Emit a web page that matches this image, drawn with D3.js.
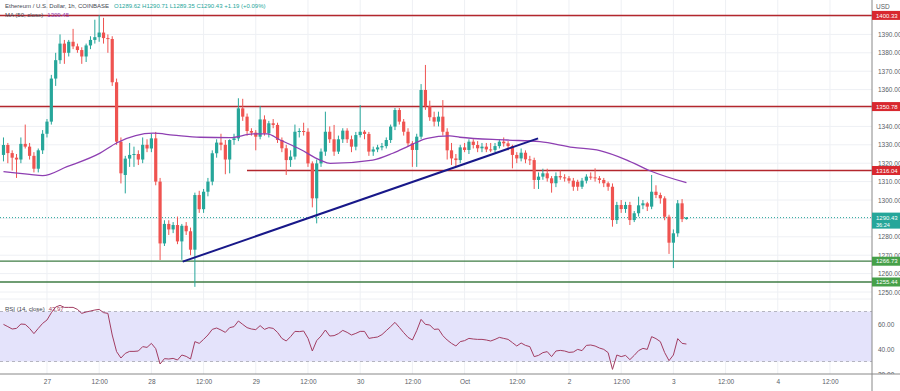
<!DOCTYPE html>
<html>
<head>
<meta charset="utf-8">
<script src="https://cdnjs.cloudflare.com/ajax/libs/d3/7.8.5/d3.min.js"></script>
<style>
  body { margin: 0; background: #fff; }
  svg { display: block; font-family: "Liberation Sans", Arial, sans-serif; }
</style>
</head>
<body>
<div id="chart"></div>
<script>
// ETH/USD 1h candles, Sep 26 14:00 -> Oct 3 03:00
const opens = [1324.5,1329.9,1325.5,1323,1322,1330.5,1329,1324,1317,1327,
  1336,1342.6,1366,1376,1385,1380,1386,1383.5,1381.5,1378,
  1384,1387,1388.5,1391,1388,1387.5,1364,1331.7,1313.6,1322.5,
  1324.5,1325,1322,1330,1328,1333.5,1310,1276.4,1287,1284,
  1286.4,1277.5,1286,1283,1273,1302.7,1295,1304.5,1310,1325.4,
  1331.2,1330,1322,1332.6,1333.5,1349.8,1345.3,1337.5,1336.6,1334.4,
  1343.8,1336.2,1341.7,1340.8,1332.6,1328.1,1321.7,1323.6,1337.1,1337.5,
  1337.1,1319.9,1300.9,1319.9,1326.3,1337.1,1333,1326.3,1333,1337.7,
  1333,1329,1335.3,1337.1,1335.9,1326.3,1327.5,1328.6,1329.3,1332.6,
  1339.9,1348.9,1342.6,1337.1,1330.8,1327.2,1334.4,1359.8,1351,1345,
  1342.6,1345.3,1337.1,1327,1322.6,1321.7,1328.6,1327.2,1331.7,1329.9,
  1328.1,1329,1327.5,1327.2,1329.3,1331.7,1330.8,1329.3,1324.5,1322.6,
  1325.7,1322.1,1321.7,1310.9,1312.7,1314.5,1311.8,1309.1,1313,1312.3,
  1311.8,1310.5,1309.9,1307.2,1310.5,1312.7,1312.3,1311.8,1310.9,1309.1,
  1307.2,1289.1,1297.3,1295.1,1297.3,1289.1,1292.8,1297.1,1298.2,1296.4,
  1304.5,1302.7,1300.9,1290.9,1276.8,1281.9,1298.2,1289.62];
const highs = [1334,1331,1327,1325,1334,1341,1331,1326,1328,1338,
  1344,1368,1380,1390,1387,1387,1393,1385,1383,1385,
  1389,1398,1400.5,1399,1390,1389,1366,1334,1324,1331,
  1329,1327,1334,1333,1336,1337,1312,1289,1289,1288,
  1291,1287,1288,1285,1304,1305,1306,1312,1327,1333,
  1336,1332.6,1333,1336,1355.3,1355,1347,1339,1338,1351.1,
  1346,1343,1344,1342,1334,1330,1327,1341,1339,1342,
  1339,1321,1322,1328,1348,1340,1340.8,1335,1339,1339,
  1335,1337,1351.6,1338,1337,1329,1330,1331,1334,1341,
  1350,1350,1344,1339,1332,1336,1363,1373.4,1354,1348,
  1348,1354.3,1339,1331,1325,1330,1331,1333,1333,1332,
  1331,1331,1331,1331,1333,1334,1332,1330,1326,1328,
  1327,1324,1323,1315,1317,1317,1313,1315,1316,1314,
  1313,1312,1311,1312,1314,1315,1317.2,1313,1312,1310,
  1309,1299,1300,1299,1299,1294,1301.8,1300,1299,1313.6,
  1308,1304,1302,1292,1284,1300,1300.5,1290.71];
const lows = [1321,1320,1316,1312,1320,1328,1322,1315,1315,1325,
  1334,1341,1362,1374,1374,1378,1382,1380,1374,1375,
  1382,1385,1386,1385,1380,1362,1330,1309,1303.6,1318,
  1318,1319,1320,1326,1326,1308,1267.4,1275,1281,1282,
  1276,1267.5,1281,1270,1252.8,1293,1293,1302,1308,1323,
  1327,1314,1314.5,1330,1332,1343,1335,1335,1327,1333,
  1335,1334,1339,1331,1326,1313.6,1318,1322,1334,1335,
  1318,1296,1287.3,1318,1324,1331,1324,1325,1331,1331,
  1326,1327,1334,1333,1324,1324,1326,1327,1328,1331,
  1338,1341,1335,1329,1318,1318,1333,1349,1343,1340,
  1340,1335,1322,1319,1318,1320,1326,1325,1328,1326,
  1326,1326,1326,1326,1328,1329,1327,1317.2,1320,1321,
  1320,1319,1306,1306,1311,1310,1304,1307,1311,1310,
  1309,1305,1305,1306,1309,1311,1310,1309,1307,1305,
  1285.5,1287,1293,1293,1286.4,1288,1291,1295,1294,1295,
  1301,1298,1289,1270.7,1263,1280,1288,1289.35];
const closes = [1329.9,1325.5,1323,1322,1330.5,1329,1324,1317,1327,1336,
  1342.6,1366,1376,1385,1380,1386,1383.5,1381.5,1378,1384,
  1387,1388.5,1391,1388,1387.5,1364,1331.7,1314.5,1322.5,1324.5,
  1325,1322,1330,1328,1333.5,1310,1276.4,1287,1284,1286.4,
  1277.5,1286,1283,1273,1302.7,1295,1304.5,1310,1325.4,1331.2,
  1330,1322,1332.6,1333.5,1349.8,1345.3,1337.5,1336.6,1334.4,1343.8,
  1336.2,1341.7,1340.8,1332.6,1328.1,1321.7,1323.6,1337.1,1337.5,1337.1,
  1319.9,1300.9,1319.9,1326.3,1337.1,1333,1326.3,1333,1337.7,1333,
  1329,1335.3,1337.1,1335.9,1326.3,1327.5,1328.6,1329.3,1332.6,1339.9,
  1348.9,1342.6,1337.1,1330.8,1327.2,1334.4,1359.8,1351,1345,1342.6,
  1345.3,1337.1,1327,1322.6,1321.7,1328.6,1327.2,1331.7,1329.9,1328.1,
  1329,1327.5,1327.2,1329.3,1331.7,1330.8,1329.3,1324.5,1322.6,1325.7,
  1322.1,1321.7,1310.9,1312.7,1314.5,1311.8,1309.1,1313,1312.3,1311.8,
  1310.5,1307.2,1307.2,1310.5,1312.7,1312.3,1311.8,1310.9,1309.1,1307.2,
  1289.1,1297.3,1295.1,1297.3,1289.1,1292.8,1297.1,1298.2,1296.4,1304.5,
  1302.7,1300.9,1290.9,1276.8,1281.9,1298.2,1289.6,1290.43];

// MA(50): candle index -> value
const maIndex = [0,2.6,6,9,14.6,22.2,26.1,34.4,39,45.2,52.1,57.4,60.6,63.6,68.2,72.8,75.1,
  84.9,89.5,94.1,97.4,102.6,104.9,115.7,123.3,130.9,137.1,143.3,148.6,157];
const maValues = [1315.4,1314.7,1313.9,1313.2,1318.1,1325.5,1331.1,1336.3,1335.3,1334.1,1333.9,1335.9,1335.9,1332.6,1327.6,1321.7,1319.9,
  1321.7,1325.4,1330.4,1333.5,1334.8,1334.1,1332.6,1331.7,1328.6,1326.8,1321.7,1315.9,1309.4];

// RSI(14), one value per candle
const rsiValues = [59.7,57.9,56,56.5,60,59.7,56.5,52.3,56.5,60.5,
  63.2,69,73.6,74.9,73.3,73.3,73.3,71.7,68.5,69.6,
  70.4,71.2,71.7,69.1,68.5,51.2,37.9,32.8,36.5,38.1,
  38.1,38.4,41.9,41.3,44.5,40.3,28,32.3,32,32.5,
  31.2,35.2,34.1,32,45.9,44.5,47.7,51.2,55.7,56.8,
  55.2,53.3,57.1,57.9,62.4,59.7,57.1,56,55.5,58.7,
  55.7,57.1,56.5,53.3,48.5,46.4,49.9,54.1,53.9,54.4,
  48.5,38.4,46.7,50.4,55.2,50.4,50.7,52.3,54.9,53.3,
  51.2,52.5,54.1,54.1,48.5,49.1,49.6,51.5,54.7,57.9,
  61.3,57.3,53.1,49.3,47.2,54.7,63.7,59.7,59.2,55.7,
  56,50.7,47.2,44.5,42.4,45.9,46.7,48.5,48,47.7,
  47.7,47.2,46.4,47.7,49.3,48.5,47.7,45.1,42.4,44.8,
  42.9,41.9,33.9,34.9,37.1,37.9,33.9,38.4,38.9,38.4,
  37.3,37.6,39.7,38.7,42.9,43.2,42.4,40.8,39.7,37.1,
  23.7,35.2,33.9,34.9,31.5,34.9,38.7,40.5,39.7,49.9,
  48.3,45.9,37.1,30.7,35.2,48.3,44.5,43.97];

// drawn levels and trendline
const resistanceLevels = [1400.33, 1350.78, 1316.04];
const supportLevels = [1266.73, 1255.44];
const trendIndex = [41.2, 122.9];
const trendValues = [1266.5, 1333.5];
const lastPrice = 1290.43;
const countdown = "36:24";

const priceTicks = [1250,1260,1270,1280,1300,1310,1320,1330,1340,1360,1370,1380,1390];
const rsiTicks = [20, 40, 60];
const xTickLabels = ["27","12:00","28","12:00","29","12:00","30","12:00","Oct","12:00","2","12:00","3","12:00","4","12:00"];

const width = 900;
const height = 391;
const plotRight = 872;
const priceBottom = 295;
const rsiTop = 296;
const rsiBottom = 374;

const upColor = "#26a69a";
const downColor = "#ef5350";
const gridColor = "#eef0f4";

const HOUR = 3600e3;
const day27 = Date.UTC(2021, 8, 27, 0);
const firstCandle = Date.UTC(2021, 8, 26, 14);
const candles = opens.map((o, i) => ({
  t: new Date(firstCandle + i * HOUR),
  o: o, h: highs[i], l: lows[i], c: closes[i], rsi: rsiValues[i]
}));
const candleTime = i => new Date(firstCandle + i * HOUR);

const svg = d3.select("#chart").append("svg")
  .attr("width", width)
  .attr("height", height);

const xScale = d3.scaleUtc()
  .domain([new Date(day27 - 10.8 * HOUR), new Date(day27 + 189.66 * HOUR)])
  .range([0, plotRight]);
const yPrice = d3.scaleLinear().domain([1248.37, 1408.7]).range([priceBottom, 0]);
const yRsi = d3.scaleLinear().domain([20, 82.4]).range([rsiBottom, rsiTop]);

const xTicks = xTickLabels.map((d, i) => new Date(day27 + i * 12 * HOUR));

svg.append("clipPath").attr("id", "priceClip")
  .append("rect").attr("x", 0).attr("y", 0).attr("width", plotRight).attr("height", priceBottom);
svg.append("clipPath").attr("id", "rsiClip")
  .append("rect").attr("x", 0).attr("y", rsiTop).attr("width", plotRight).attr("height", rsiBottom - rsiTop);
svg.append("clipPath").attr("id", "rsiAxisClip")
  .append("rect").attr("x", plotRight).attr("y", rsiTop).attr("width", width - plotRight).attr("height", rsiBottom - rsiTop);

// grid
const grid = svg.append("g");
grid.selectAll(".vgrid")
  .data(xTicks)
  .enter().append("line")
  .attr("x1", d => xScale(d)).attr("x2", d => xScale(d))
  .attr("y1", 0).attr("y2", rsiBottom)
  .attr("stroke", gridColor);
grid.selectAll(".hgrid")
  .data(d3.range(1250, 1410, 10))
  .enter().append("line")
  .attr("x1", 0).attr("x2", plotRight)
  .attr("y1", d => yPrice(d)).attr("y2", d => yPrice(d))
  .attr("stroke", gridColor);
grid.selectAll(".rgrid")
  .data([40, 60, 80])
  .enter().append("line")
  .attr("x1", 0).attr("x2", plotRight)
  .attr("y1", d => yRsi(d)).attr("y2", d => yRsi(d))
  .attr("stroke", gridColor);

// price pane
const price = svg.append("g").attr("clip-path", "url(#priceClip)");

price.append("line")
  .attr("x1", 0).attr("x2", plotRight)
  .attr("y1", yPrice(lastPrice)).attr("y2", yPrice(lastPrice))
  .attr("stroke", upColor).attr("stroke-width", 1)
  .attr("stroke-dasharray", "1,2");

price.selectAll(".res")
  .data(resistanceLevels)
  .enter().append("line")
  .attr("x1", (d, i) => i === 2 ? 247 : 0).attr("x2", plotRight)
  .attr("y1", d => yPrice(d)).attr("y2", d => yPrice(d))
  .attr("stroke", "#b3272d").attr("stroke-width", 1.5);

price.selectAll(".sup")
  .data(supportLevels)
  .enter().append("line")
  .attr("x1", 0).attr("x2", plotRight)
  .attr("y1", d => yPrice(d)).attr("y2", d => yPrice(d))
  .attr("stroke", "#3f7d44").attr("stroke-width", 1.3);

const candle = price.selectAll(".candle")
  .data(candles)
  .enter().append("g")
  .attr("class", "candle");

candle.append("line")
  .attr("x1", d => xScale(d.t)).attr("x2", d => xScale(d.t))
  .attr("y1", d => yPrice(d.h)).attr("y2", d => yPrice(d.l))
  .attr("stroke", d => d.c >= d.o ? upColor : downColor)
  .attr("stroke-width", 1);

candle.append("rect")
  .attr("x", d => xScale(d.t) - 1.6)
  .attr("width", 3.2)
  .attr("y", d => yPrice(Math.max(d.o, d.c)))
  .attr("height", d => Math.max(1, Math.abs(yPrice(d.o) - yPrice(d.c))))
  .attr("fill", d => d.c >= d.o ? upColor : downColor);

const maLine = d3.line()
  .x((d, i) => xScale(candleTime(maIndex[i])))
  .y(d => yPrice(d))
  .curve(d3.curveMonotoneX);
price.append("path")
  .datum(maValues)
  .attr("d", maLine)
  .attr("fill", "none")
  .attr("stroke", "#8e3fb2")
  .attr("stroke-width", 1.3);

price.append("line")
  .attr("x1", xScale(candleTime(trendIndex[0]))).attr("x2", xScale(candleTime(trendIndex[1])))
  .attr("y1", yPrice(trendValues[0])).attr("y2", yPrice(trendValues[1]))
  .attr("stroke", "#181889").attr("stroke-width", 2);

// rsi pane
const rsi = svg.append("g").attr("clip-path", "url(#rsiClip)");
rsi.append("rect")
  .attr("x", 0).attr("width", plotRight)
  .attr("y", yRsi(70)).attr("height", yRsi(30) - yRsi(70))
  .attr("fill", "#e4e3fb");
rsi.selectAll(".band")
  .data([70, 30])
  .enter().append("line")
  .attr("x1", 0).attr("x2", plotRight)
  .attr("y1", d => yRsi(d)).attr("y2", d => yRsi(d))
  .attr("stroke", "#b5b5c0").attr("stroke-dasharray", "3,3");
rsi.append("path")
  .datum(candles)
  .attr("d", d3.line().x(d => xScale(d.t)).y(d => yRsi(d.rsi)))
  .attr("fill", "none")
  .attr("stroke", "#a23d62")
  .attr("stroke-width", 1);

// axes
svg.append("line").attr("x1", plotRight).attr("x2", plotRight).attr("y1", 0).attr("y2", height)
  .attr("stroke", "#888");
svg.append("line").attr("x1", 0).attr("x2", width).attr("y1", rsiBottom).attr("y2", rsiBottom)
  .attr("stroke", "#888");

const yAxis = svg.append("g")
  .attr("transform", `translate(${plotRight}, 0)`)
  .call(d3.axisRight(yPrice).tickValues(priceTicks).tickFormat(d3.format(".2f")).tickSize(0).tickPadding(6));
const rAxis = svg.append("g")
  .attr("clip-path", "url(#rsiAxisClip)")
  .append("g")
  .attr("transform", `translate(${plotRight}, 0)`)
  .call(d3.axisRight(yRsi).tickValues(rsiTicks).tickFormat(d3.format(".2f")).tickSize(0).tickPadding(6));
const xAxis = svg.append("g")
  .attr("transform", `translate(0, ${rsiBottom})`)
  .call(d3.axisBottom(xScale).tickValues(xTicks).tickFormat((d, i) => xTickLabels[i]).tickSize(0).tickPadding(5));

[yAxis, rAxis, xAxis].forEach(a => {
  a.select(".domain").remove();
  a.selectAll("text").attr("fill", "#5a5d66").style("font-size", "6.5px")
    .style("font-family", "'Liberation Sans', Arial, sans-serif");
});

svg.append("text")
  .attr("x", 876).attr("y", 9)
  .attr("fill", "#5a5d66").style("font-size", "6.5px")
  .text("USD");

// price labels on the axis
const tags = resistanceLevels.map(v => ({ v: v, fill: "#d8282f" }))
  .concat(supportLevels.map(v => ({ v: v, fill: "#46a049" })));
const tag = svg.selectAll(".tag")
  .data(tags)
  .enter().append("g")
  .attr("transform", d => `translate(${plotRight}, ${yPrice(d.v)})`);
tag.append("rect")
  .attr("x", 0).attr("y", -4.5).attr("width", 28).attr("height", 9)
  .attr("fill", d => d.fill);
tag.append("text")
  .attr("x", 4).attr("y", 2.2)
  .attr("fill", "#fff").style("font-size", "6px")
  .text(d => d3.format(".2f")(d.v));

const lastTag = svg.append("g").attr("transform", `translate(${plotRight}, ${yPrice(lastPrice)})`);
lastTag.append("rect").attr("x", 0).attr("y", -5).attr("width", 28).attr("height", 16).attr("fill", upColor);
lastTag.append("text").attr("x", 4).attr("y", 2).attr("fill", "#fff").style("font-size", "6px")
  .text(d3.format(".2f")(lastPrice));
lastTag.append("text").attr("x", 4).attr("y", 9).attr("fill", "#fff").style("font-size", "5.5px")
  .text(countdown);

// legends
const head = svg.append("text").attr("x", 5).attr("y", 8).style("font-size", "6px");
head.append("tspan").attr("fill", "#434651").text("Ethereum / U.S. Dollar, 1h, COINBASE");
head.append("tspan").attr("fill", upColor).attr("dx", 5)
  .text("O1289.62  H1290.71  L1289.35  C1290.43  +1.19 (+0.09%)");

const maHead = svg.append("text").attr("x", 5).attr("y", 17).style("font-size", "6px");
maHead.append("tspan").attr("fill", "#434651").text("MA (50, close)");
maHead.append("tspan").attr("fill", "#8e3fb2").attr("dx", 4).text("1309.45");

const rsiHead = svg.append("text").attr("x", 5).attr("y", 311).style("font-size", "6px");
rsiHead.append("tspan").attr("fill", "#434651").text("RSI (14, close)");
rsiHead.append("tspan").attr("fill", "#a23d62").attr("dx", 4).text("43.97");
</script>
</body>
</html>
